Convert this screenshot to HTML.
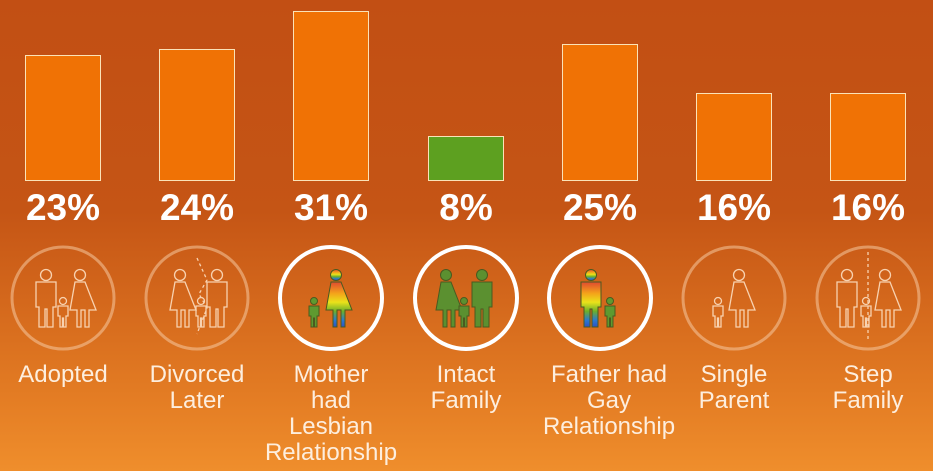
<!DOCTYPE html>
<html><head><meta charset="utf-8"><style>
body{margin:0;width:933px;height:471px;overflow:hidden;background:linear-gradient(#c24f14 0%,#c55515 45%,#e47d24 85%,#ef8e2c 100%);font-family:"Liberation Sans",sans-serif;position:relative}
.bar{position:absolute;width:74px;background:#f07205;border:1px solid #fbe3b8;bottom:289px}
.pct{position:absolute;top:187px;width:134px;text-align:center;color:#fff;font-size:37px;font-weight:bold}
.lab{position:absolute;top:360px;width:160px;text-align:center;color:#fdeede;font-size:24px;line-height:26px}
svg{position:absolute;left:0;top:0}
</style></head><body>
<div class="bar" style="left:25px;top:55px;height:124px"></div>
<div class="bar" style="left:159px;top:49px;height:130px"></div>
<div class="bar" style="left:293px;top:11px;height:168px"></div>
<div class="bar" style="left:428px;top:136px;height:43px;background:#5da020"></div>
<div class="bar" style="left:562px;top:44px;height:135px"></div>
<div class="bar" style="left:696px;top:93px;height:86px"></div>
<div class="bar" style="left:830px;top:93px;height:86px"></div>
<div class="pct" style="left:-4px">23%</div>
<div class="pct" style="left:130px">24%</div>
<div class="pct" style="left:264px">31%</div>
<div class="pct" style="left:399px">8%</div>
<div class="pct" style="left:533px">25%</div>
<div class="pct" style="left:667px">16%</div>
<div class="pct" style="left:801px">16%</div>
<svg width="933" height="471">
<defs>
<linearGradient id="rb" x1="0" y1="0" x2="0" y2="1">
<stop offset="0" stop-color="#e04a30"/><stop offset="0.25" stop-color="#f4a21a"/><stop offset="0.45" stop-color="#eae21a"/><stop offset="0.65" stop-color="#6bb02a"/><stop offset="0.85" stop-color="#2a7ad0"/><stop offset="1" stop-color="#3050c0"/>
</linearGradient>
<g id="man"><circle cx="0" cy="-52" r="5.5"/><path d="M-10,-45 h20 v25 h-3 v20 h-6 v-18 h-2 v18 h-6 v-20 h-3 z"/></g>
<g id="wom"><circle cx="0" cy="-52" r="5.5"/><path d="M-5,-45 h10 l11,28 h-7 v17 h-4 v-17 h-4 v17 h-4 v-17 h-7 z"/></g>
<g id="kid"><circle cx="0" cy="-26" r="3.5"/><path d="M-5,-21 h10 v10 h-2 v11 h-2.5 v-9 h-1 v9 h-2.5 v-11 h-2 z"/></g>
</defs>
<g fill="none" stroke="#f6c9a0" stroke-opacity="0.55" stroke-width="3">
<circle cx="63" cy="298" r="51"/><circle cx="197" cy="298" r="51"/><circle cx="734" cy="298" r="51"/><circle cx="868" cy="298" r="51"/>
</g>
<g fill="none" stroke="#fff" stroke-width="4">
<circle cx="331" cy="298" r="51"/><circle cx="466" cy="298" r="51"/><circle cx="600" cy="298" r="51"/>
</g>
<g fill="none" stroke="#f8d2b0" stroke-width="1.3">
<use href="#man" x="46" y="327"/><use href="#wom" x="80" y="327"/><use href="#kid" x="63" y="327"/>
<use href="#wom" x="180" y="327"/><use href="#man" x="217" y="327"/><use href="#kid" x="201" y="327"/>
<use href="#wom" x="739" y="327"/><use href="#kid" x="718" y="327"/>
<use href="#man" x="847" y="327"/><use href="#wom" x="885" y="327"/><use href="#kid" x="866" y="327"/>
<path d="M197,258 l10,22 l-8,14 l8,14 l-10,26" stroke-dasharray="3,3"/>
<path d="M868,252 v90" stroke-dasharray="3,3"/>
</g>
<g stroke="#4a5a20" stroke-width="1">
<use href="#wom" x="336" y="327" fill="url(#rb)"/><use href="#kid" x="314" y="327" fill="#5e9a30"/>
<use href="#wom" x="446" y="327" fill="#5b9030"/><use href="#man" x="482" y="327" fill="#5b9030"/><use href="#kid" x="464" y="327" fill="#5b9030"/>
<use href="#man" x="591" y="327" fill="url(#rb)"/><use href="#kid" x="610" y="327" fill="#5e9a30"/>
</g>
</svg>
<div class="lab" style="left:-17px;top:362px">Adopted</div>
<div class="lab" style="left:117px;top:362px">Divorced<br>Later</div>
<div class="lab" style="left:251px;top:362px">Mother<br>had<br>Lesbian<br>Relationship</div>
<div class="lab" style="left:386px;top:362px">Intact<br>Family</div>
<div class="lab" style="left:529px;top:362px">Father had<br>Gay<br>Relationship</div>
<div class="lab" style="left:654px;top:362px">Single<br>Parent</div>
<div class="lab" style="left:788px;top:362px">Step<br>Family</div>
</body></html>
